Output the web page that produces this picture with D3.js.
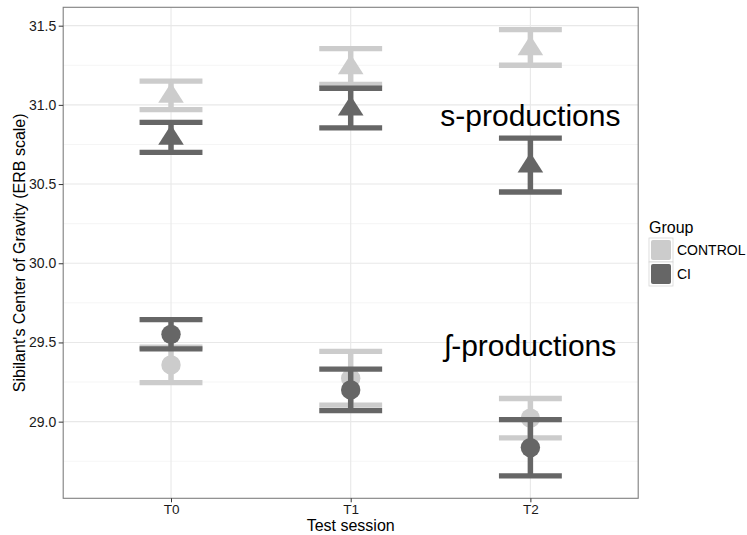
<!DOCTYPE html>
<html>
<head>
<meta charset="utf-8">
<script src="https://cdn.jsdelivr.net/npm/d3@7"></script>
<style>
  html, body { margin: 0; padding: 0; background: #ffffff; }
  svg { display: block; font-family: "Liberation Sans", Arial, Helvetica, sans-serif; }
</style>
</head>
<body>
<svg id="chart" width="747" height="535"></svg>
<script>
// ---------------- data ----------------
const sessions = ["T0", "T1", "T2"];
const groups = ["CONTROL", "CI"];
const groupColors = ["#cccccc", "#666666"];

// s-productions (triangles)
const sControlMean = [31.06, 31.24, 31.36];
const sControlLow  = [30.97, 31.13, 31.25];
const sControlHigh = [31.15, 31.355, 31.475];
const sCIMean      = [30.795, 30.98, 30.62];
const sCILow       = [30.70, 30.855, 30.45];
const sCIHigh      = [30.89, 31.105, 30.79];

// ʃ-productions (circles)
const shControlMean = [29.358, 29.274, 29.022];
const shControlLow  = [29.246, 29.104, 28.897];
const shControlHigh = [29.47, 29.444, 29.146];
const shCIMean      = [29.551, 29.20, 28.836];
const shCILow       = [29.459, 29.069, 28.658];
const shCIHigh      = [29.644, 29.331, 29.013];

const yTicks = [29.0, 29.5, 30.0, 30.5, 31.0, 31.5];
const yMinor = [28.75, 29.25, 29.75, 30.25, 30.75, 31.25];
const yDomain = [28.516, 31.616];

const annotLabels = ["s-productions", "\u0283-productions"];
const annotSession = ["T2", "T2"];
const annotY = [30.93, 29.48];

const xTitle = "Test session";
const yTitle = "Sibilant's Center of Gravity (ERB scale)";
const legendTitle = "Group";

// ---------------- layout ----------------
const svg = d3.select("#chart");
const panel = { left: 63.2, right: 638.2, top: 7.3, bottom: 498.3 };

const x = d3.scalePoint().domain(sessions).range([panel.left, panel.right]).padding(0.6);
const y = d3.scaleLinear().domain(yDomain).range([panel.bottom, panel.top]);
const capHalf = x.step() * 0.35 / 2;

// panel background
svg.append("rect")
  .attr("x", panel.left).attr("y", panel.top)
  .attr("width", panel.right - panel.left).attr("height", panel.bottom - panel.top)
  .attr("fill", "#ffffff");

const grid = svg.append("g");
grid.selectAll("line.minor").data(yMinor.filter(v => y(v) > panel.top && y(v) < panel.bottom))
  .join("line").attr("class", "minor")
  .attr("x1", panel.left).attr("x2", panel.right)
  .attr("y1", d => y(d)).attr("y2", d => y(d))
  .attr("stroke", "#f2f2f2").attr("stroke-width", 0.8);
grid.selectAll("line.majy").data(yTicks)
  .join("line").attr("class", "majy")
  .attr("x1", panel.left).attr("x2", panel.right)
  .attr("y1", d => y(d)).attr("y2", d => y(d))
  .attr("stroke", "#e8e8e8").attr("stroke-width", 1.1);
grid.selectAll("line.majx").data(sessions)
  .join("line").attr("class", "majx")
  .attr("x1", d => x(d)).attr("x2", d => x(d))
  .attr("y1", panel.top).attr("y2", panel.bottom)
  .attr("stroke", "#e8e8e8").attr("stroke-width", 1.1);

// ---------------- marks ----------------
function triPath(cx, cy) {
  const p = d3.path();
  p.moveTo(cx, cy - 12.5);
  p.lineTo(cx + 12.8, cy + 7.5);
  p.lineTo(cx - 12.8, cy + 7.5);
  p.closePath();
  return p.toString();
}

const layers = [
  { color: groupColors[0], shape: "tri",    mean: sControlMean,  low: sControlLow,  high: sControlHigh },
  { color: groupColors[0], shape: "circle", mean: shControlMean, low: shControlLow, high: shControlHigh },
  { color: groupColors[1], shape: "tri",    mean: sCIMean,       low: sCILow,       high: sCIHigh },
  { color: groupColors[1], shape: "circle", mean: shCIMean,      low: shCILow,      high: shCIHigh }
];

const marks = svg.append("g");
layers.forEach(L => {
  const g = marks.append("g");
  const rows = sessions.map((s, i) => ({ s, m: L.mean[i], lo: L.low[i], hi: L.high[i] }));
  rows.forEach(r => {
    const cx = x(r.s);
    g.append("line").attr("x1", cx).attr("x2", cx).attr("y1", y(r.hi)).attr("y2", y(r.lo))
      .attr("stroke", L.color).attr("stroke-width", 5.5);
    g.append("line").attr("x1", cx - capHalf).attr("x2", cx + capHalf).attr("y1", y(r.hi)).attr("y2", y(r.hi))
      .attr("stroke", L.color).attr("stroke-width", 5.3);
    g.append("line").attr("x1", cx - capHalf).attr("x2", cx + capHalf).attr("y1", y(r.lo)).attr("y2", y(r.lo))
      .attr("stroke", L.color).attr("stroke-width", 5.3);
    if (L.shape === "tri") {
      g.append("path").attr("d", triPath(cx, y(r.m))).attr("fill", L.color);
    } else {
      g.append("circle").attr("cx", cx).attr("cy", y(r.m)).attr("r", 9.7).attr("fill", L.color);
    }
  });
});

// annotations
svg.append("g").selectAll("text").data(annotLabels)
  .join("text")
  .attr("x", (d, i) => x(annotSession[i]))
  .attr("y", (d, i) => y(annotY[i]))
  .attr("dy", "0.35em")
  .attr("text-anchor", "middle")
  .attr("font-size", 30)
  .attr("fill", "#000000")
  .text(d => d);

// panel border
svg.append("rect")
  .attr("x", panel.left).attr("y", panel.top)
  .attr("width", panel.right - panel.left).attr("height", panel.bottom - panel.top)
  .attr("fill", "none").attr("stroke", "#7f7f7f").attr("stroke-width", 1.1);

// ---------------- axes ----------------
const yAxis = svg.append("g")
  .attr("transform", `translate(${panel.left},0)`)
  .call(d3.axisLeft(y).tickValues(yTicks).tickFormat(d3.format(".1f")).tickSize(4.5).tickPadding(2.5));
yAxis.select(".domain").remove();
yAxis.selectAll(".tick line").attr("stroke", "#333333");
yAxis.selectAll(".tick text").attr("font-size", 14).attr("fill", "#1a1a1a")
  .attr("font-family", "'Liberation Sans', Arial, Helvetica, sans-serif");

const xAxis = svg.append("g")
  .attr("transform", `translate(0,${panel.bottom})`)
  .call(d3.axisBottom(x).tickSize(4).tickPadding(2));
xAxis.select(".domain").remove();
xAxis.selectAll(".tick line").attr("stroke", "#333333");
xAxis.selectAll(".tick text").attr("font-size", 13.5).attr("fill", "#1a1a1a")
  .attr("font-family", "'Liberation Sans', Arial, Helvetica, sans-serif");

svg.append("text")
  .attr("x", (panel.left + panel.right) / 2).attr("y", 531)
  .attr("text-anchor", "middle").attr("font-size", 16).attr("fill", "#000")
  .text(xTitle);

svg.append("text")
  .attr("transform", `translate(25,${(panel.top + panel.bottom) / 2}) rotate(-90)`)
  .attr("text-anchor", "middle").attr("font-size", 16).attr("fill", "#000")
  .text(yTitle);

// ---------------- legend ----------------
const legend = svg.append("g").attr("transform", "translate(649,0)");
legend.append("text").attr("x", 0).attr("y", 233).attr("font-size", 16).attr("fill", "#000").text(legendTitle);
const keys = legend.selectAll("g.key").data(groups).join("g").attr("class", "key")
  .attr("transform", (d, i) => `translate(0,${238 + i * 24})`);
keys.append("rect").attr("x", 0).attr("y", 0).attr("width", 24).attr("height", 24)
  .attr("fill", "#ffffff").attr("stroke", "#d6d6d6").attr("stroke-width", 0.8);
keys.append("rect").attr("x", 2).attr("y", 2).attr("width", 20).attr("height", 20).attr("rx", 2)
  .attr("fill", (d, i) => groupColors[i]);
keys.append("text").attr("x", 28).attr("y", 12).attr("dy", "0.36em")
  .attr("font-size", 14).attr("fill", "#000").text(d => d);
</script>
</body>
</html>
